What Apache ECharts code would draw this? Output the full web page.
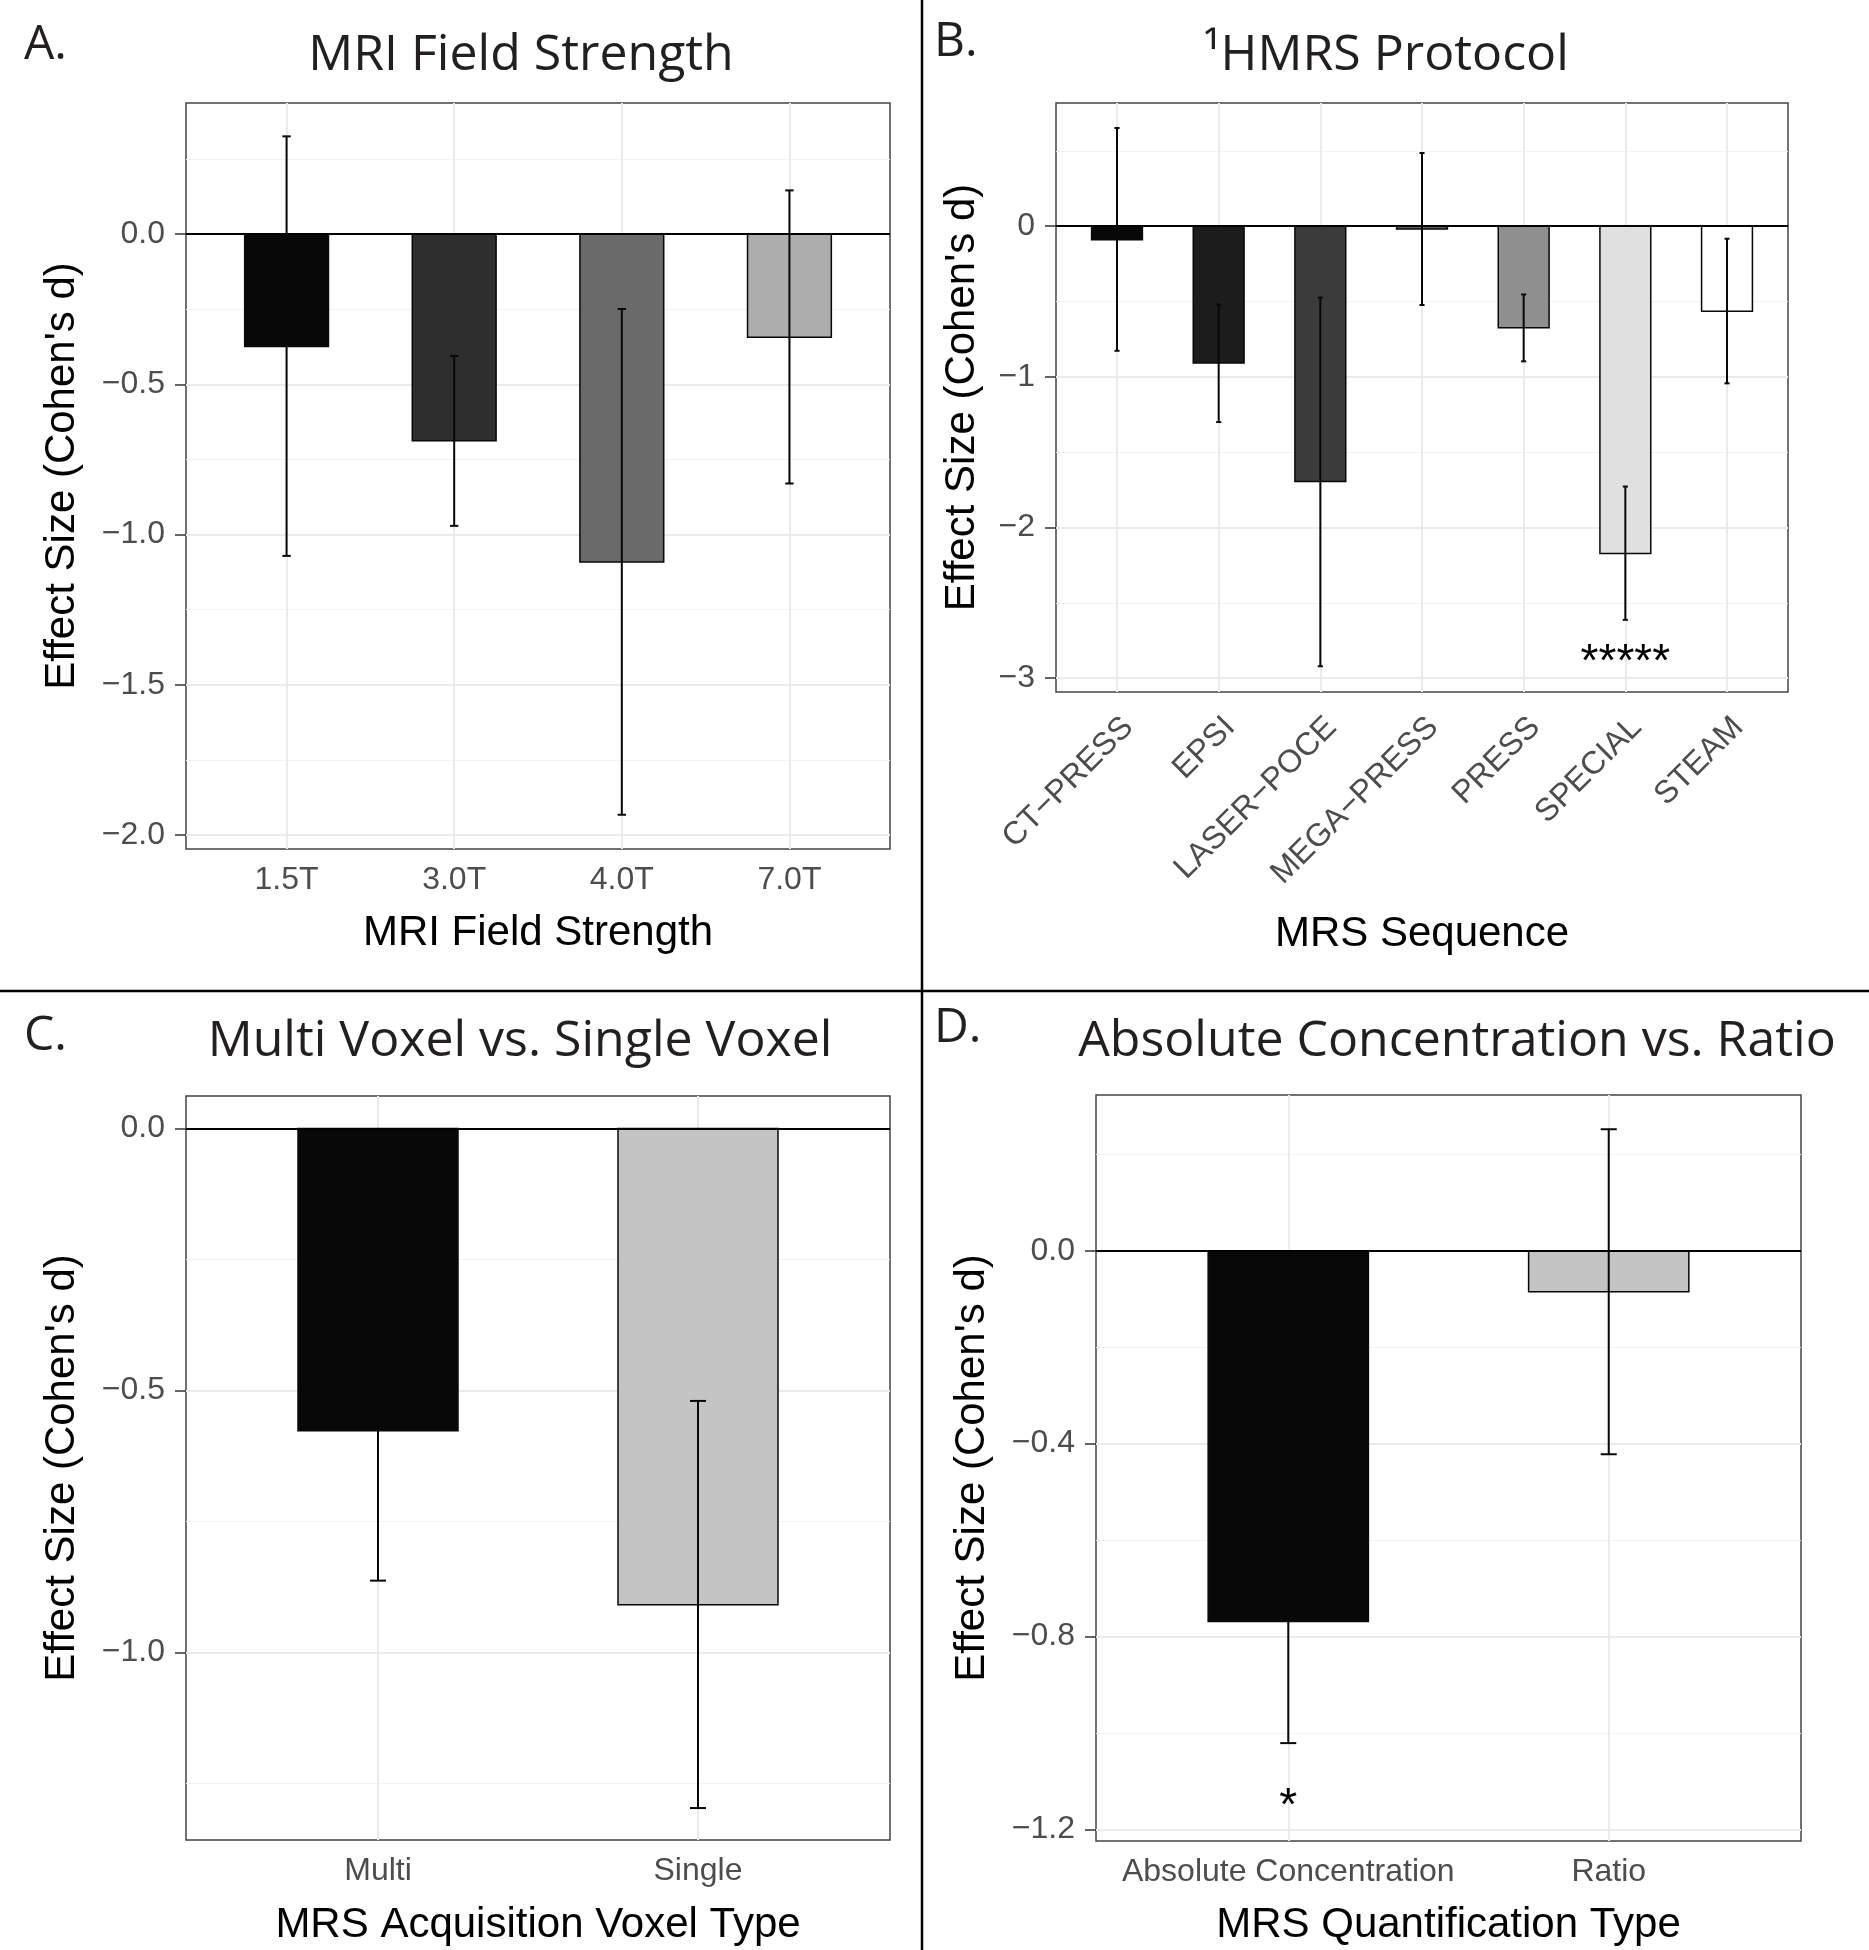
<!DOCTYPE html>
<html>
<head>
<meta charset="utf-8">
<script src="https://cdn.jsdelivr.net/npm/echarts/dist/echarts.min.js"></script>
<style>
  html, body { margin: 0; padding: 0; background: #ffffff; }
  #chart { width: 1869px; height: 1950px; }
</style>
</head>
<body>
<div id="chart"></div>
<script>
// ---------------- DATA ----------------
// Panel A: MRI field strength
const fieldCategories = ['1.5T', '3.0T', '4.0T', '7.0T'];
const fieldMean = [-0.374, -0.688, -1.091, -0.343];
const fieldLower = [-1.071, -0.971, -1.933, -0.830];
const fieldUpper = [0.326, -0.405, -0.249, 0.146];

// Panel B: 1H MRS protocol (sequence)
const seqCategories = ['CT\u2212PRESS', 'EPSI', 'LASER\u2212POCE', 'MEGA\u2212PRESS', 'PRESS', 'SPECIAL', 'STEAM'];
const seqMean = [-0.090, -0.908, -1.695, -0.018, -0.674, -2.172, -0.564];
const seqLower = [-0.827, -1.300, -2.921, -0.523, -0.897, -2.613, -1.043];
const seqUpper = [0.652, -0.519, -0.474, 0.486, -0.453, -1.728, -0.083];
const seqAnnotations = [{ category: 6, y: -2.90, text: '*****' }];

// Panel C: multi voxel vs single voxel
const voxelCategories = ['Multi', 'Single'];
const voxelMean = [-0.577, -0.909];
const voxelLower = [-0.863, -1.297];
const voxelUpper = [-0.291, -0.520];

// Panel D: absolute concentration vs ratio
const quantCategories = ['Absolute Concentration', 'Ratio'];
const quantMean = [-0.769, -0.085];
const quantLower = [-1.021, -0.422];
const quantUpper = [-0.517, 0.252];
const quantAnnotations = [{ category: 1, y: -1.155, text: '*' }];

// Tick values (major / minor) and y ranges
const fieldTicks = [-2.0, -1.5, -1.0, -0.5, 0.0];
const fieldMinorTicks = [-1.75, -1.25, -0.75, -0.25, 0.25];
const fieldRange = [-2.047, 0.437];

const seqTicks = [-3, -2, -1, 0];
const seqMinorTicks = [-2.5, -1.5, -0.5, 0.5];
const seqRange = [-3.092, 0.818];

const voxelTicks = [-1.0, -0.5, 0.0];
const voxelMinorTicks = [-1.25, -0.75, -0.25];
const voxelRange = [-1.358, 0.062];

const quantTicks = [-1.2, -0.8, -0.4, 0.0];
const quantMinorTicks = [-1.0, -0.6, -0.2, 0.2];
const quantRange = [-1.224, 0.323];

// ---------------- STYLES ----------------
const ERR_COLOR = '#080808';
const fieldColors = ['#080808', '#2e2e2e', '#6a6a6a', '#adadad'];
const seqColors = ['#080808', '#1c1c1c', '#3b3b3b', '#606060', '#8f8f8f', '#e0e0e0', '#ffffff'];
const voxelColors = ['#080808', '#c4c4c4'];
const quantColors = ['#080808', '#c4c4c4'];

const AXIS_FONT = 'Liberation Sans, Arial, Helvetica, sans-serif';
const TITLE_FONT = 'Open Sans, Noto Sans, sans-serif';

const panels = [
  { cats: fieldCategories, mean: fieldMean, lower: fieldLower, upper: fieldUpper, ann: [],
    ticks: fieldTicks, minor: fieldMinorTicks, range: fieldRange, colors: fieldColors, decimals: 1,
    grid: { left: 186, top: 103, width: 704, height: 746 },
    xName: 'MRI Field Strength', xGap: 63, yGap: 103, rotate: 0 },
  { cats: seqCategories, mean: seqMean, lower: seqLower, upper: seqUpper, ann: seqAnnotations,
    ticks: seqTicks, minor: seqMinorTicks, range: seqRange, colors: seqColors, decimals: 0,
    grid: { left: 1056, top: 103, width: 732, height: 589 },
    xName: 'MRS Sequence', xGap: 221, yGap: 73, rotate: 45 },
  { cats: voxelCategories, mean: voxelMean, lower: voxelLower, upper: voxelUpper, ann: [],
    ticks: voxelTicks, minor: voxelMinorTicks, range: voxelRange, colors: voxelColors, decimals: 1,
    grid: { left: 186, top: 1096, width: 704, height: 744 },
    xName: 'MRS Acquisition Voxel Type', xGap: 64, yGap: 103, rotate: 0 },
  { cats: quantCategories, mean: quantMean, lower: quantLower, upper: quantUpper, ann: quantAnnotations,
    ticks: quantTicks, minor: quantMinorTicks, range: quantRange, colors: quantColors, decimals: 1,
    grid: { left: 1096, top: 1095, width: 705, height: 746 },
    xName: 'MRS Quantification Type', xGap: 63, yGap: 103, rotate: 0 }
];

function fmtNum(v, d) {
  const a = Math.abs(v).toFixed(d);
  return (v < -1e-9 ? '\u2212' : '') + a;
}

const grid = [], xAxis = [], yAxis = [], series = [];

panels.forEach((p, i) => {
  const n = p.cats.length;
  const positions = p.cats.map((c, k) => k + 1);
  grid.push(Object.assign({ show: true, borderColor: '#444', borderWidth: 1.5, backgroundColor: '#ffffff', containLabel: false }, p.grid));

  const xLabel = {
    customValues: positions,
    formatter: (v) => p.cats[Math.round(v) - 1] || '',
    color: '#4d4d4d', fontSize: 32, fontFamily: AXIS_FONT,
    margin: 15, rotate: p.rotate
  };
  if (p.rotate) { xLabel.verticalAlign = 'top'; xLabel.margin = 19; }

  xAxis.push({
    gridIndex: i, type: 'value', min: 0.4, max: n + 0.6,
    axisLine: { show: false },
    axisTick: { show: true, customValues: positions, length: 11, lineStyle: { color: '#333', width: 1.5 } },
    axisLabel: xLabel,
    splitLine: { show: true, lineStyle: { color: '#ebebeb', width: 2 } },
    name: p.xName, nameLocation: 'middle', nameGap: p.xGap,
    nameTextStyle: { fontSize: 42, color: '#000', fontFamily: AXIS_FONT }
  });

  yAxis.push({
    gridIndex: i, type: 'value', min: p.range[0], max: p.range[1],
    axisLine: { show: false },
    axisTick: { show: true, customValues: p.ticks, length: 11, lineStyle: { color: '#333', width: 1.5 } },
    axisLabel: {
      customValues: p.ticks,
      formatter: (v) => fmtNum(v, p.decimals),
      color: '#4d4d4d', fontSize: 32, fontFamily: AXIS_FONT, margin: 21
    },
    splitLine: { show: true, lineStyle: { color: '#ebebeb', width: 2 } },
    name: "Effect Size (Cohen's d)", nameLocation: 'middle', nameGap: p.yGap,
    nameTextStyle: { fontSize: 42, color: '#000', fontFamily: AXIS_FONT }
  });
  yAxis.push({
    gridIndex: i, type: 'value', min: p.range[0], max: p.range[1],
    axisLine: { show: false },
    axisTick: { show: false, customValues: p.minor },
    axisLabel: { show: false, customValues: p.minor },
    splitLine: { show: true, lineStyle: { color: '#f2f2f2', width: 1.2 } }
  });

  // bars
  series.push({
    type: 'custom', xAxisIndex: i, yAxisIndex: 2 * i, z: 3,
    encode: { x: 0, y: 1 },
    data: p.mean.map((m, k) => [positions[k], m]),
    renderItem: (params, api) => {
      const x = api.value(0), y = api.value(1);
      const a = api.coord([x - 0.25, 0]);
      const b = api.coord([x + 0.25, y]);
      return {
        type: 'rect',
        shape: { x: a[0], y: Math.min(a[1], b[1]), width: b[0] - a[0], height: Math.abs(b[1] - a[1]) },
        style: { fill: p.colors[params.dataIndex], stroke: ERR_COLOR, lineWidth: 1.5 }
      };
    },
    markLine: {
      silent: true, symbol: 'none', z: 5,
      label: { show: false },
      lineStyle: { color: '#000', width: 2, type: 'solid' },
      data: [{ yAxis: 0 }]
    }
  });

  // error bars
  series.push({
    type: 'custom', xAxisIndex: i, yAxisIndex: 2 * i, z: 6,
    encode: { x: 0, y: [1, 2] },
    data: p.lower.map((lo, k) => [positions[k], lo, p.upper[k]]),
    renderItem: (params, api) => {
      const x = api.value(0);
      const lo = api.coord([x, api.value(1)]);
      const hi = api.coord([x, api.value(2)]);
      const capL = api.coord([x - 0.025, api.value(1)]);
      const capR = api.coord([x + 0.025, api.value(1)]);
      const half = (capR[0] - capL[0]) / 2;
      const st = { stroke: ERR_COLOR, lineWidth: 2 };
      return {
        type: 'group',
        children: [
          { type: 'line', shape: { x1: lo[0], y1: lo[1], x2: hi[0], y2: hi[1] }, style: st },
          { type: 'line', shape: { x1: lo[0] - half, y1: lo[1], x2: lo[0] + half, y2: lo[1] }, style: st },
          { type: 'line', shape: { x1: hi[0] - half, y1: hi[1], x2: hi[0] + half, y2: hi[1] }, style: st }
        ]
      };
    }
  });

  // annotations
  if (p.ann.length) {
    series.push({
      type: 'custom', xAxisIndex: i, yAxisIndex: 2 * i, z: 7,
      encode: { x: 0, y: 1 },
      data: p.ann.map(a => [a.category, a.y, a.text]),
      renderItem: (params, api) => {
        const pt = api.coord([api.value(0), api.value(1)]);
        return {
          type: 'text', x: pt[0], y: pt[1],
          style: { text: p.ann[params.dataIndex].text, fill: '#000', font: '46px ' + AXIS_FONT, align: 'center', verticalAlign: 'middle' }
        };
      }
    });
  }
});

const titleStyle = { fontFamily: TITLE_FONT, fontSize: 50, fontWeight: 'normal', color: '#231f20' };
const letterStyle = { fontFamily: TITLE_FONT, fontSize: 48, fontWeight: 'normal', color: '#231f20' };

const option = {
  backgroundColor: '#ffffff',
  animation: false,
  title: [
    { text: 'A.', left: 24, top: 21, padding: 0, textStyle: letterStyle },
    { text: 'MRI Field Strength', left: 521, top: 31, padding: 0, textAlign: 'center', textStyle: titleStyle },
    { text: 'B.', left: 934, top: 18, padding: 0, textStyle: letterStyle },
    { text: '\u00B9HMRS Protocol', left: 1386, top: 31, padding: 0, textAlign: 'center', textStyle: titleStyle },
    { text: 'C.', left: 24, top: 1012, padding: 0, textStyle: letterStyle },
    { text: 'Multi Voxel vs. Single Voxel', left: 520, top: 1017, padding: 0, textAlign: 'center', textStyle: titleStyle },
    { text: 'D.', left: 934, top: 1004, padding: 0, textStyle: letterStyle },
    { text: 'Absolute Concentration vs. Ratio', left: 1457, top: 1017, padding: 0, textAlign: 'center', textStyle: titleStyle }
  ],
  grid, xAxis, yAxis, series,
  graphic: [
    { type: 'line', shape: { x1: 922, y1: 0, x2: 922, y2: 1950 }, style: { stroke: '#000', lineWidth: 2.5 }, z: 100 },
    { type: 'line', shape: { x1: 0, y1: 991, x2: 1869, y2: 991 }, style: { stroke: '#000', lineWidth: 2.5 }, z: 100 }
  ]
};

const chart = echarts.init(document.getElementById('chart'), null, { renderer: 'canvas' });
chart.setOption(option);
</script>
</body>
</html>
